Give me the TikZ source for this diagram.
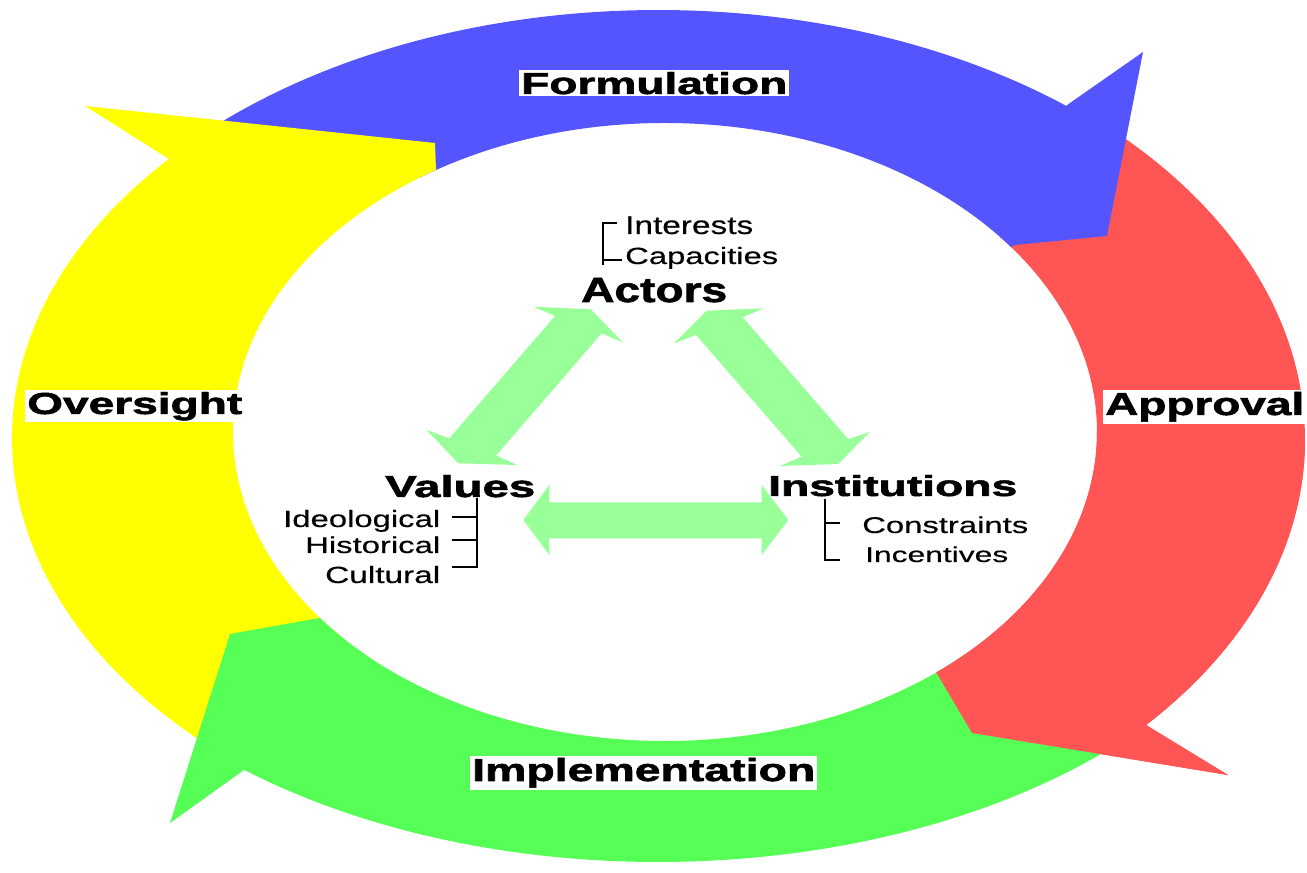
\documentclass[tikz,border=0pt]{standalone}
\usepackage{graphicx}
\usepackage{fontspec}
\setmainfont{Liberation Sans}
\newfontfamily\lbold[FakeBold=1.6]{Liberation Sans Bold}
\newfontfamily\lreg[FakeBold=0.3]{Liberation Sans}
\usetikzlibrary{calc}
\definecolor{cblue}{HTML}{5555FF}
\definecolor{cred}{HTML}{FF5555}
\definecolor{cgreen}{HTML}{55FF55}
\definecolor{cyellow}{HTML}{FFFF00}
\definecolor{lgreen}{HTML}{99FF99}
\begin{document}
\begin{tikzpicture}[x=1pt,y=1pt,
  dbl/.style={fill=lgreen,draw=none},
  brk/.style={line width=2pt,draw=black},
  lbl/.style={inner sep=0pt,anchor=base west},
  boxed/.style={fill=white,inner xsep=2pt,inner ysep=2pt,anchor=base west},
]
\useasboundingbox (0,0) rectangle (1307,873);
\fill[white] (0,0) rectangle (1307,873);

% red (Approval)
\fill[cred] ([shift={(658,433.5)}]45.3:647pt and 435pt)
  arc[start angle=45.3,end angle=-41,x radius=647pt,y radius=435pt]
  -- (1146,148) -- (1228,98) -- (972,140) -- (936,201)
  -- ([shift={(665,441)}]-51.1:432pt and 309pt)
  arc[start angle=-51.1,end angle=39.2,x radius=432pt,y radius=309pt] -- cycle;
% blue (Formulation)
\fill[cblue] ([shift={(658,437)}]135.2:646pt and 426pt)
  arc[start angle=135.2,end angle=50.8,x radius=646pt,y radius=426pt]
  -- (1070,770) -- (1143,821) -- (1107,637) -- (1015,628)
  -- ([shift={(665,441)}]36.8:432pt and 309pt)
  arc[start angle=36.8,end angle=124.5,x radius=432pt,y radius=309pt] -- cycle;
% yellow (Oversight)
\fill[cyellow] ([shift={(658,434.5)}]228.5:646pt and 428pt)
  arc[start angle=228.5,end angle=139.2,x radius=646pt,y radius=428pt]
  -- (169,714) -- (85,767) -- (435,730) -- (436,703)
  -- ([shift={(665,441)}]122:432pt and 309pt)
  arc[start angle=122,end angle=222,x radius=432pt,y radius=309pt] -- cycle;
% green (Implementation)
\fill[cgreen] ([shift={(658,408)}]-44.4:646pt and 397pt)
  arc[start angle=-44.4,end angle=-129.9,x radius=646pt,y radius=397pt]
  -- (244,103) -- (170,50) -- (230,239) -- (320,255)
  -- ([shift={(665,441)}]217:432pt and 309pt)
  arc[start angle=217,end angle=315,x radius=432pt,y radius=309pt] -- cycle;
% red head again, over the green tail
\fill[cred] ([shift={(658,433.5)}]0:647pt and 435pt)
  arc[start angle=0,end angle=-41,x radius=647pt,y radius=435pt]
  -- (1146,148) -- (1228,98) -- (972,140) -- (936,201)
  -- ([shift={(665,441)}]-51.1:432pt and 309pt)
  arc[start angle=-51.1,end angle=0,x radius=432pt,y radius=309pt] -- cycle;

% light green double arrows
\fill[dbl] (590.7,563.7) -- (623.3,530.3) -- (601.7,539.7) -- (496,417.3) -- (517.3,408)
  -- (458.3,409.7) -- (426.7,443) -- (449.3,434.7) -- (555,557) -- (533.3,566.3) -- cycle;
\fill[dbl] (706.7,562.3) -- (674,529.7) -- (696,538) -- (801.7,416.3) -- (780,407)
  -- (838.3,409) -- (870,441.3) -- (848.3,433.7) -- (742.7,555.7) -- (764,564.7) -- cycle;
\fill[dbl] (523.3,353) -- (549.3,388) -- (549.3,370.7) -- (761.7,370.7) -- (761.7,388)
  -- (788.3,353) -- (761.7,318) -- (761.7,334.7) -- (549.3,334.7) -- (549.3,318) -- cycle;

% ring labels
\node[boxed] (form) at (519,779) {\resizebox{266pt}{22pt}{\lbold Formulation}};
\node[boxed] (appr) at (1103,458) {\resizebox{199pt}{23pt}{\lbold Approval}};
\node[boxed] (over) at (25,459) {\resizebox{215pt}{22pt}{\lbold Oversight}};
\node[boxed] (impl) at (470,92) {\resizebox{343pt}{23pt}{\lbold Implementation}};

% triangle labels
\node[lbl] (actors) at (581,571) {\resizebox{146pt}{24pt}{\lbold Actors}};
\node[lbl] (values) at (385,376) {\resizebox{150pt}{22pt}{\lbold Values}};
\node[lbl] (inst) at (768,377) {\resizebox{249pt}{21pt}{\lbold Institutions}};

\node[lbl] (interests) at (625,639) {\resizebox{128pt}{17.5pt}{\lreg Interests}};
\node[lbl] (capac) at (625,609) {\resizebox{153pt}{17pt}{\lreg Capacities}};
\node[lbl] (ideo) at (283,346) {\resizebox{157pt}{17pt}{\lreg Ideological}};
\node[lbl] (hist) at (305,320) {\resizebox{135pt}{16.5pt}{\lreg Historical}};
\node[lbl] (cult) at (325,290) {\resizebox{115pt}{17pt}{\lreg Cultural}};
\node[lbl] (constr) at (862,340) {\resizebox{166pt}{16.5pt}{\lreg Constraints}};
\node[lbl] (incent) at (865,311) {\resizebox{143pt}{15.5pt}{\lreg Incentives}};

% brackets
\draw[brk] (617,650) -- (603,650) -- (603,608);
\draw[brk] (603,613) -- (622,613);
\draw[brk] (477,375) -- (477,305);
\draw[brk] (452,356) -- (477,356);
\draw[brk] (452,333) -- (477,333);
\draw[brk] (452,306) -- (477,306);
\draw[brk] (825,374) -- (825,313) -- (840,313);
\draw[brk] (825,350) -- (840,350);
\end{tikzpicture}
\end{document}
